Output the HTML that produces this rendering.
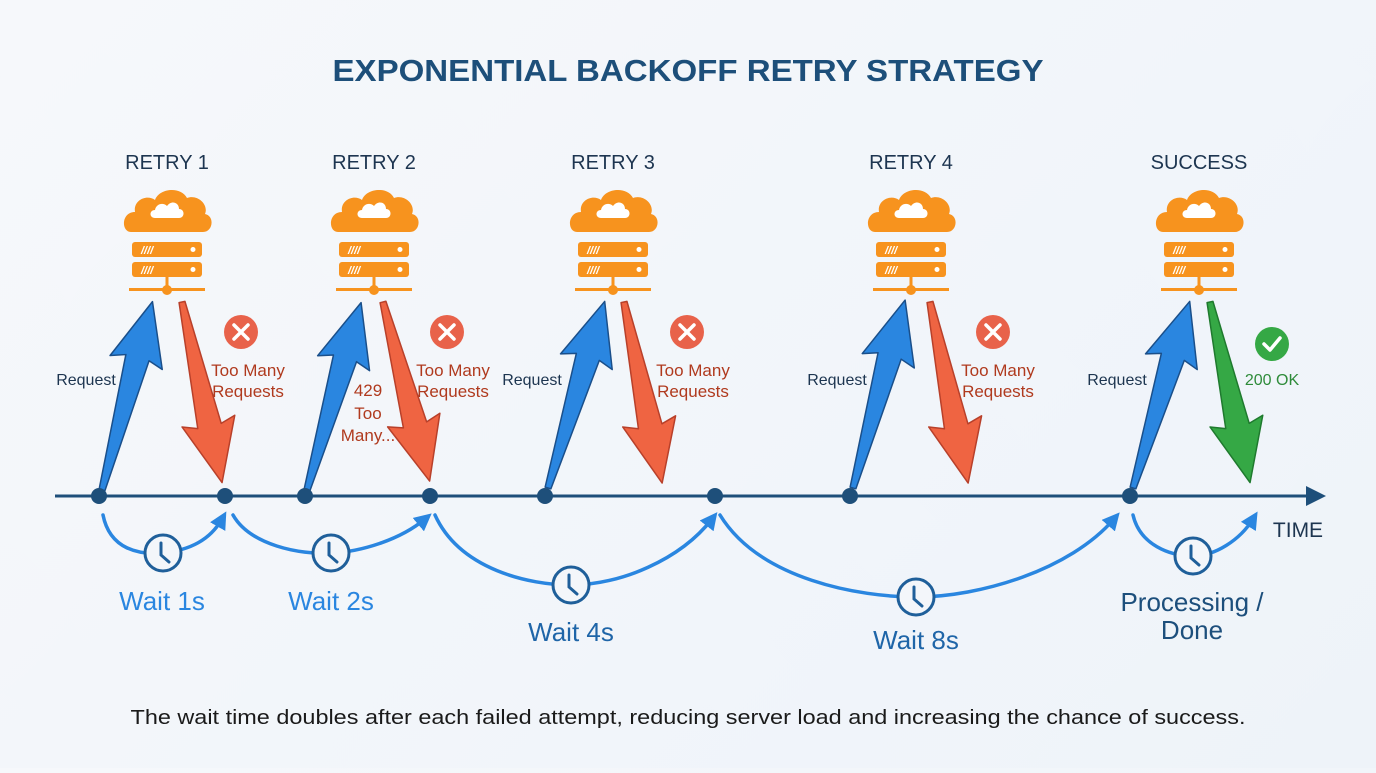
<!DOCTYPE html>
<html><head><meta charset="utf-8"><style>
html,body{margin:0;padding:0;}
body{width:1376px;height:768px;overflow:hidden;background:linear-gradient(135deg,#f6f8fb,#eef3f9);font-family:"Liberation Sans",sans-serif;}
svg text{font-family:"Liberation Sans",sans-serif;}
</style></head><body>
<svg width="1376" height="768" viewBox="0 0 1376 768" xmlns="http://www.w3.org/2000/svg">
<defs>
<marker id="ah" viewBox="0 0 10 10" refX="5" refY="5" markerWidth="5" markerHeight="5" orient="auto"><path d="M0,0 L10,5 L0,10 z" fill="#2a86e0"/></marker>
<g id="srv">
 <path d="M-36,42 C-46,42 -46,22 -32,22 C-34,10 -20,4 -12,10 C-8,-2 14,-4 20,8 C30,4 42,14 38,24 C48,26 46,42 36,42 Z" fill="#f7931e"/>
 <path d="M-12,28 C-18,28 -18,20 -12,20 C-11,14 -4,12 0,16 C4,10 12,12 12,19 C18,19 18,28 12,28 Z" fill="#fff"/>
 <rect x="-35" y="52" width="70" height="15" rx="3" fill="#f7931e"/>
 <rect x="-35" y="72" width="70" height="15" rx="3" fill="#f7931e"/>
 <text x="-26" y="64" font-size="11" fill="#fff" font-style="italic" font-weight="bold">////</text>
 <text x="-26" y="84" font-size="11" fill="#fff" font-style="italic" font-weight="bold">////</text>
 <circle cx="26" cy="59.5" r="2.5" fill="#fff"/><circle cx="26" cy="79.5" r="2.5" fill="#fff"/>
 <rect x="-1.5" y="87" width="3" height="12" fill="#f7931e"/>
 <rect x="-38" y="98" width="76" height="3" fill="#f7931e"/>
 <circle cx="0" cy="100" r="5" fill="#f7931e"/>
</g>
<polygon id="ba" points="-3,0 3,0 12,-137 27,-132 0,-195 -27,-132 -12,-137" fill="#2a86e0" stroke="#1a4f8a" stroke-width="1.5" stroke-linejoin="round"/>
<polygon id="ra" points="-3,0 3,0 12,-127 27,-122 0,-185 -27,-122 -12,-127" fill="#ef6442" stroke="#b8402a" stroke-width="1.5" stroke-linejoin="round"/>
<polygon id="ga" points="-3,0 3,0 12,-127 27,-122 0,-185 -27,-122 -12,-127" fill="#35a845" stroke="#1f7a2e" stroke-width="1.5" stroke-linejoin="round"/>
<g id="clk"><circle r="18" fill="#f3f6fa" stroke="#1f5f9a" stroke-width="3"/><path d="M-2,-10 L-2,2 L6,9" fill="none" stroke="#1f5f9a" stroke-width="3" stroke-linecap="round"/></g>
<g id="xx"><circle r="17" fill="#e8624a"/><path d="M-7,-7 L7,7 M7,-7 L-7,7" stroke="#fff" stroke-width="3.5" stroke-linecap="round"/></g>
</defs>

<text x="688" y="81" text-anchor="middle" font-size="31" fill="#1d4f7a" font-weight="bold" textLength="711" lengthAdjust="spacingAndGlyphs">EXPONENTIAL BACKOFF RETRY STRATEGY</text>

<g font-size="20" fill="#1d3550" text-anchor="middle">
<text x="167" y="169">RETRY 1</text><text x="374" y="169">RETRY 2</text><text x="613" y="169">RETRY 3</text><text x="911" y="169">RETRY 4</text><text x="1199" y="169">SUCCESS</text>
</g>

<use href="#srv" x="167" y="190"/><use href="#srv" x="374" y="190"/><use href="#srv" x="613" y="190"/><use href="#srv" x="911" y="190"/><use href="#srv" x="1199" y="190"/>

<line x1="55" y1="496" x2="1312" y2="496" stroke="#1e4f7a" stroke-width="3"/>
<path d="M1326,496 L1306,486 L1306,506 Z" fill="#1e4f7a"/>

<use href="#ba" transform="translate(102,490) rotate(15)"/>
<use href="#ra" transform="translate(182,302) rotate(167.5)"/>
<use href="#ba" transform="translate(307,490) rotate(16.1)"/>
<use href="#ra" transform="translate(383,302) rotate(165.4)"/>
<use href="#ba" transform="translate(548,488) rotate(16.9)"/>
<use href="#ra" transform="translate(624,302) rotate(168.1)"/>
<use href="#ba" transform="translate(853,488) rotate(15.5)"/>
<use href="#ra" transform="translate(930,302) rotate(168.1)"/>
<use href="#ba" transform="translate(1133,488) rotate(16.9)"/>
<use href="#ga" transform="translate(1210,302) rotate(167.5)"/>

<g fill="#1e4f7a">
<circle cx="99" cy="496" r="8"/><circle cx="225" cy="496" r="8"/><circle cx="305" cy="496" r="8"/><circle cx="430" cy="496" r="8"/><circle cx="545" cy="496" r="8"/><circle cx="715" cy="496" r="8"/><circle cx="850" cy="496" r="8"/><circle cx="1130" cy="496" r="8"/>
</g>

<g fill="none" stroke="#2a86e0" stroke-width="3.5" stroke-linecap="round">
<path d="M103,515 C110,550 140,555 163,553 C190,550 210,540 222,519" marker-end="url(#ah)"/>
<path d="M233,515 C250,545 300,555 331,553 C360,552 400,540 425,519" marker-end="url(#ah)"/>
<path d="M435,515 C460,570 530,585 571,585 C620,585 680,560 712,519" marker-end="url(#ah)"/>
<path d="M720,515 C760,580 860,597 916,597 C980,597 1070,570 1114,519" marker-end="url(#ah)"/>
<path d="M1133,515 C1140,545 1170,556 1193,556 C1215,556 1240,540 1253,519" marker-end="url(#ah)"/>
</g>
<use href="#clk" x="163" y="553"/><use href="#clk" x="331" y="553"/><use href="#clk" x="571" y="585"/><use href="#clk" x="916" y="597"/><use href="#clk" x="1193" y="556"/>

<g font-size="26" text-anchor="middle">
<text x="162" y="610" fill="#2a86e0">Wait 1s</text>
<text x="331" y="610" fill="#2a86e0">Wait 2s</text>
<text x="571" y="641" fill="#1f65a8">Wait 4s</text>
<text x="916" y="649" fill="#1f65a8">Wait 8s</text>
<text x="1192" y="611" fill="#1d4f7c">Processing /</text>
<text x="1192" y="639" fill="#1d4f7c">Done</text>
</g>
<text x="1298" y="537" text-anchor="middle" font-size="21" fill="#1d3550">TIME</text>

<use href="#xx" x="241" y="332"/><use href="#xx" x="447" y="332"/><use href="#xx" x="687" y="332"/><use href="#xx" x="993" y="332"/>
<circle cx="1272" cy="344" r="17" fill="#35a845"/>
<path d="M1264,344 L1270,350 L1280,338" fill="none" stroke="#fff" stroke-width="3.5" stroke-linecap="round" stroke-linejoin="round"/>

<g font-size="17" fill="#b03a1e" text-anchor="middle">
<text x="248" y="376">Too Many</text><text x="248" y="397">Requests</text>
<text x="453" y="376">Too Many</text><text x="453" y="397">Requests</text>
<text x="693" y="376">Too Many</text><text x="693" y="397">Requests</text>
<text x="998" y="376">Too Many</text><text x="998" y="397">Requests</text>
<text x="368" y="396">429</text><text x="368" y="419">Too</text><text x="368" y="441">Many...</text>
</g>
<text x="1272" y="385" font-size="16" fill="#2e8b3a" text-anchor="middle">200 OK</text>
<g font-size="16" fill="#1d3550" text-anchor="middle">
<text x="86" y="385">Request</text><text x="532" y="385">Request</text><text x="837" y="385">Request</text><text x="1117" y="385">Request</text>
</g>

<text x="688" y="724" text-anchor="middle" font-size="20" fill="#1a1a1a" textLength="1115" lengthAdjust="spacingAndGlyphs">The wait time doubles after each failed attempt, reducing server load and increasing the chance of success.</text>
</svg>
</body></html>
